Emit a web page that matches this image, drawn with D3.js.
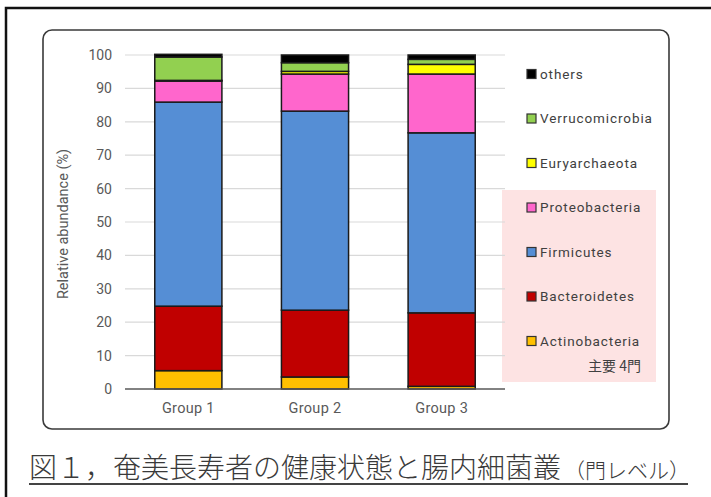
<!DOCTYPE html>
<html>
<head>
<meta charset="utf-8">
<script src="https://cdn.jsdelivr.net/npm/d3@7"></script>
<style>
  html, body { margin: 0; padding: 0; background: #fff; }
  svg { display: block; }
</style>
</head>
<body>
<svg id="chart" width="711" height="497"></svg>
<script>
// Phylum-level relative abundance (%) for each group
const groups = ["Group 1", "Group 2", "Group 3"];
const phyla = ["Actinobacteria", "Bacteroidetes", "Firmicutes", "Proteobacteria", "Euryarchaeota", "Verrucomicrobia", "others"];
const actinobacteria  = [5.5, 3.6, 0.8];
const bacteroidetes   = [19.3, 20.0, 22.0];
const firmicutes      = [61.1, 59.6, 53.9];
const proteobacteria  = [6.3, 11.1, 17.6];
const euryarchaeota   = [0.2, 0.8, 2.9];
const verrucomicrobia = [7.0, 2.6, 1.5];
const others          = [0.8, 2.3, 1.3];
const colors = ["#ffc000", "#c00000", "#558ed5", "#ff66cc", "#ffff00", "#92d050", "#000000"];
const yTicks = [0, 10, 20, 30, 40, 50, 60, 70, 80, 90, 100];

const seriesValues = [actinobacteria, bacteroidetes, firmicutes, proteobacteria, euryarchaeota, verrucomicrobia, others];
const rows = groups.map((g, i) => {
  const r = { group: g };
  phyla.forEach((p, k) => { r[p] = seriesValues[k][i]; });
  return r;
});

const svg = d3.select("#chart");
const latin = "Roboto, 'Noto Sans', sans-serif";
const cjk = "'Noto Sans CJK JP', 'Noto Sans', sans-serif";

// Outer figure frame (top and left edges)
svg.append("path")
  .attr("d", "M6,497 V8 H711")
  .attr("fill", "none").attr("stroke", "#111").attr("stroke-width", 2.5);

// Rounded chart panel
svg.append("rect")
  .attr("x", 43).attr("y", 30).attr("width", 626).attr("height", 399)
  .attr("rx", 9).attr("ry", 9)
  .attr("fill", "#fff").attr("stroke", "#3a3a3a").attr("stroke-width", 1.6);

// Pink highlight behind the four major phyla
svg.append("rect")
  .attr("x", 502).attr("y", 190).attr("width", 154).attr("height", 192)
  .attr("fill", "#fde3e3");

const x = d3.scaleBand().domain(groups).range([125, 505]).paddingInner(0.47).paddingOuter(0.235);
const y = d3.scaleLinear().domain([0, 100]).range([389, 55]);

// Gridlines
svg.append("g")
  .selectAll("line").data(yTicks.filter(t => t > 0)).join("line")
  .attr("x1", 125).attr("x2", 505)
  .attr("y1", d => y(d)).attr("y2", d => y(d))
  .attr("stroke", "#d9d9d9").attr("stroke-width", 1.2);

// Y axis labels
const yAxis = svg.append("g").attr("transform", "translate(125,0)")
  .call(d3.axisLeft(y).tickValues(yTicks).tickSize(0).tickPadding(13));
yAxis.select(".domain").remove();
yAxis.selectAll("text")
  .attr("font-family", latin).attr("font-size", 14).attr("fill", "#595959");

svg.append("text")
  .attr("transform", "translate(68,224) rotate(-90)")
  .attr("text-anchor", "middle")
  .attr("font-family", latin).attr("font-size", 14.5).attr("fill", "#595959")
  .text("Relative abundance  (%)");

// Stacked bars
const stacked = d3.stack().keys(phyla)(rows);
svg.append("g")
  .selectAll("g").data(stacked).join("g")
  .attr("fill", (d, i) => colors[i])
  .selectAll("rect").data(d => d).join("rect")
  .attr("x", d => x(d.data.group))
  .attr("width", x.bandwidth())
  .attr("y", d => y(d[1]))
  .attr("height", d => y(d[0]) - y(d[1]))
  .attr("stroke", "#1a1a1a").attr("stroke-width", 1.5);

// Baseline
svg.append("line")
  .attr("x1", 125).attr("x2", 505).attr("y1", y(0)).attr("y2", y(0))
  .attr("stroke", "#595959").attr("stroke-width", 1.6);

// X axis labels
const xAxis = svg.append("g").attr("transform", `translate(0,${y(0)})`)
  .call(d3.axisBottom(x).tickSize(0).tickPadding(14));
xAxis.select(".domain").remove();
xAxis.selectAll("text")
  .attr("font-family", latin).attr("font-size", 14.5).attr("letter-spacing", 0.3)
  .attr("fill", "#595959");

// Legend (top entry is "others")
const legendOrder = phyla.slice().reverse();
const lg = svg.append("g").selectAll("g").data(legendOrder).join("g")
  .attr("transform", (d, i) => `translate(527,${74 + i * 44.5})`);
lg.append("rect")
  .attr("x", 0).attr("y", -4.5).attr("width", 9).attr("height", 9)
  .attr("fill", d => colors[phyla.indexOf(d)])
  .attr("stroke", "#333").attr("stroke-width", 1.2);
lg.append("text")
  .attr("x", 13).attr("y", 0).attr("dy", "0.35em")
  .attr("font-family", latin).attr("font-size", 13.5)
  .attr("letter-spacing", 0.9).attr("fill", "#404040")
  .text(d => d);

svg.append("text")
  .attr("x", 641).attr("y", 371).attr("text-anchor", "end")
  .attr("font-family", cjk).attr("font-size", 14).attr("fill", "#404040")
  .text("主要 4門");

// Figure caption
const cap = svg.append("text")
  .attr("x", 29).attr("y", 477.5)
  .attr("font-family", cjk).attr("font-weight", 300).attr("fill", "#3a3a3a");
cap.append("tspan").attr("font-size", 28).text("図１，奄美長寿者の健康状態と腸内細菌叢");
cap.append("tspan").attr("font-size", 21).attr("dx", 3).text("（門レベル）");

svg.append("line")
  .attr("x1", 29).attr("x2", 688).attr("y1", 484).attr("y2", 484)
  .attr("stroke", "#444").attr("stroke-width", 1.8);
</script>
</body>
</html>
